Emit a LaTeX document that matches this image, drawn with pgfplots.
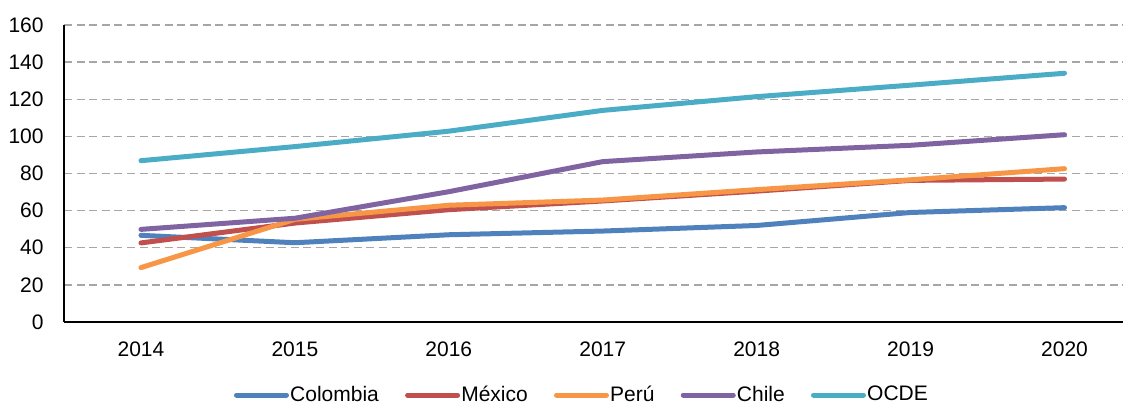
\documentclass[border=0pt]{standalone}
\usepackage{pgfplots}
\pgfplotsset{compat=1.18}
\usepackage{fontspec}
\setmainfont{Liberation Sans}
\definecolor{cCol}{HTML}{4F81BD}
\definecolor{cMex}{HTML}{C0504D}
\definecolor{cPer}{HTML}{F79646}
\definecolor{cChi}{HTML}{8064A2}
\definecolor{cOcd}{HTML}{4BACC6}
\definecolor{cGrid}{HTML}{A6A6A6}
\begin{document}
\fontsize{10.5}{12.6}\selectfont
\begin{tikzpicture}
\begin{axis}[
  scale only axis,
  width=529.5pt, height=148.5pt,
  xmin=2013.5, xmax=2020.38,
  ymin=0, ymax=160,
  ytick={0,20,...,160},
  xtick={2014,2015,2016,2017,2018,2019,2020},
  xticklabel style={/pgf/number format/1000 sep={}, yshift=-6pt},
  yticklabel style={xshift=-6.5pt},
  /pgf/number format/assume math mode=true,
  major tick length=0pt,
  axis x line*=bottom, axis y line*=left,
  axis line style={line width=0.65pt, -},
  ymajorgrids,
  grid style={cGrid, line width=0.7pt, dash pattern=on 4pt off 2.3pt},
  tick label style={font=\fontsize{10.5}{12.6}\selectfont},
  legend columns=5,
  legend style={at={(0.4887,-0.2458)}, anchor=center, draw=none, fill=none,
    font=\fontsize{10.5}{12.6}\selectfont,
    /tikz/every even column/.append style={column sep=12.5pt},
    nodes={inner sep=0.6pt}},
  legend image code/.code={\draw[#1, line cap=round] (0pt,0pt) -- (25pt,0pt);},
  every axis plot/.append style={line width=2.5pt, line join=round, line cap=round},
]
\addplot[cCol] coordinates {(2014,46.7) (2015,42.7) (2016,47.0) (2017,49.0) (2018,52.0) (2019,59.0) (2020,61.6)};
\addplot[cMex] coordinates {(2014,42.6) (2015,53.3) (2016,60.5) (2017,65.2) (2018,70.5) (2019,76.3) (2020,77.0)};
\addplot[cPer] coordinates {(2014,29.3) (2015,55.3) (2016,62.9) (2017,65.7) (2018,71.3) (2019,76.6) (2020,82.6)};
\addplot[cChi] coordinates {(2014,49.9) (2015,55.9) (2016,70.2) (2017,86.4) (2018,91.6) (2019,95.2) (2020,100.9)};
\addplot[cOcd] coordinates {(2014,86.9) (2015,94.5) (2016,102.8) (2017,114.0) (2018,121.4) (2019,127.6) (2020,134.0)};
\legend{Colombia,México,Perú,Chile,OCDE}
\end{axis}
\path ([shift={(-32pt,-41pt)}]current axis.south west) rectangle ([shift={(2.5pt,12.5pt)}]current axis.north east);
\end{tikzpicture}
\end{document}
